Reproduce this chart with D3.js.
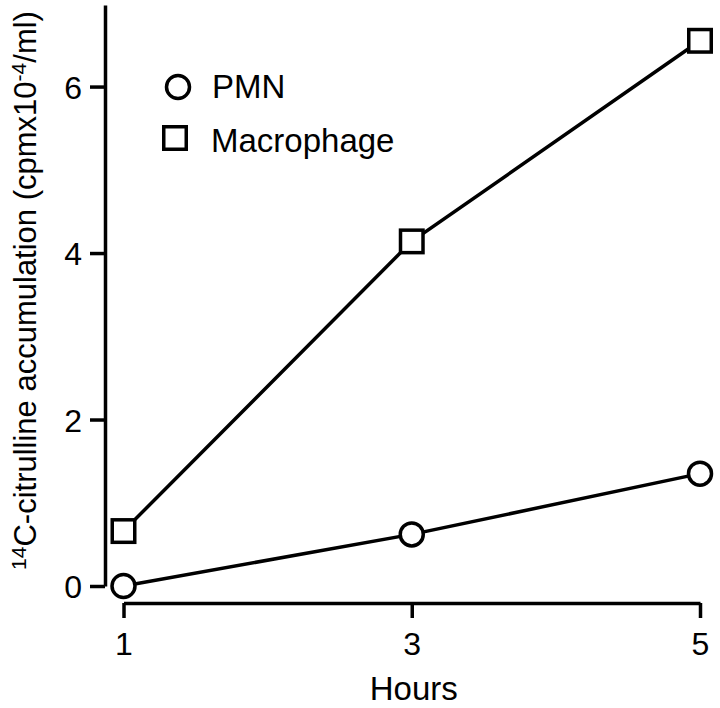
<!DOCTYPE html>
<html>
<head>
<meta charset="utf-8">
<script src="https://cdn.jsdelivr.net/npm/d3@7"></script>
<style>
  html, body { margin: 0; padding: 0; background: #fff; }
  svg { display: block; }
  text { font-family: "Liberation Sans", Arial, Helvetica, sans-serif; fill: #000; }
</style>
</head>
<body>
<svg id="chart" width="720" height="708"></svg>
<script>
const hours = [1, 3, 5];
const pmn = [0.0, 0.62, 1.35];
const macrophage = [0.66, 4.14, 6.55];
const xTicks = [1, 3, 5];
const yTicks = [0, 2, 4, 6];
const seriesNames = ["PMN", "Macrophage"];

const svg = d3.select("#chart");
const x = d3.scaleLinear().domain([1, 5]).range([123.5, 700]);
const y = d3.scaleLinear().domain([0, 6.98]).range([586, 5]);
const SW = 3.5;

// Y axis
const yAxis = svg.append("g")
  .attr("transform", "translate(105,0)")
  .call(d3.axisLeft(y).tickValues(yTicks).tickSize(15).tickSizeOuter(0).tickPadding(8).tickFormat(d3.format("d")));
yAxis.select(".domain").attr("stroke", "#000").attr("stroke-width", SW);
yAxis.selectAll(".tick line").attr("stroke", "#000").attr("stroke-width", SW);
yAxis.selectAll(".tick text").attr("font-size", 32).attr("dy", "0.36em")
  .style("font-family", "'Liberation Sans', Arial, sans-serif");

// X axis
const xAxis = svg.append("g")
  .attr("transform", "translate(0,603)")
  .call(d3.axisBottom(x).tickValues(xTicks).tickSize(15).tickSizeOuter(0).tickPadding(0).tickFormat(d3.format("d")));
xAxis.select(".domain").attr("stroke", "#000").attr("stroke-width", SW);
xAxis.selectAll(".tick line").attr("stroke", "#000").attr("stroke-width", SW);
xAxis.selectAll(".tick text").attr("font-size", 32).attr("dy", null).attr("y", 52)
  .style("font-family", "'Liberation Sans', Arial, sans-serif");

// Axis titles
svg.append("text")
  .attr("x", x(3) + 2).attr("y", 700)
  .attr("text-anchor", "middle").attr("font-size", 33)
  .text("Hours");

const yt = svg.append("text")
  .attr("transform", `translate(36,${y(3.55)}) rotate(-90)`)
  .attr("text-anchor", "middle").attr("font-size", 31);
yt.append("tspan").attr("font-size", 21).attr("dy", -10).text("14");
yt.append("tspan").attr("dy", 10).text("C-citrulline accumulation (cpmx10");
yt.append("tspan").attr("font-size", 21).attr("dy", -10).text("-4");
yt.append("tspan").attr("dy", 10).text("/ml)");

// Lines
const line = d3.line().x(d => x(d[0])).y(d => y(d[1]));
const pmnData = hours.map((h, i) => [h, pmn[i]]);
const macData = hours.map((h, i) => [h, macrophage[i]]);

[pmnData, macData].forEach(data => {
  svg.append("path").datum(data)
    .attr("d", line).attr("fill", "none")
    .attr("stroke", "#000").attr("stroke-width", SW);
});

// Markers
const r = 11.5, s = 22.5;
svg.selectAll("circle.pmn").data(pmnData).enter().append("circle")
  .attr("cx", d => x(d[0])).attr("cy", d => y(d[1])).attr("r", r)
  .attr("fill", "#fff").attr("stroke", "#000").attr("stroke-width", SW);
svg.selectAll("rect.mac").data(macData).enter().append("rect")
  .attr("x", d => x(d[0]) - s / 2).attr("y", d => y(d[1]) - s / 2)
  .attr("width", s).attr("height", s)
  .attr("fill", "#fff").attr("stroke", "#000").attr("stroke-width", SW);

// Legend
const legend = svg.append("g");
legend.append("circle").attr("cx", 178).attr("cy", 87).attr("r", r)
  .attr("fill", "#fff").attr("stroke", "#000").attr("stroke-width", SW);
legend.append("text").attr("x", 212).attr("y", 98).attr("font-size", 33).text(seriesNames[0]);
legend.append("rect").attr("x", 175 - s / 2).attr("y", 138 - s / 2).attr("width", s).attr("height", s)
  .attr("fill", "#fff").attr("stroke", "#000").attr("stroke-width", SW);
legend.append("text").attr("x", 211).attr("y", 152).attr("font-size", 33).text(seriesNames[1]);
</script>
</body>
</html>
